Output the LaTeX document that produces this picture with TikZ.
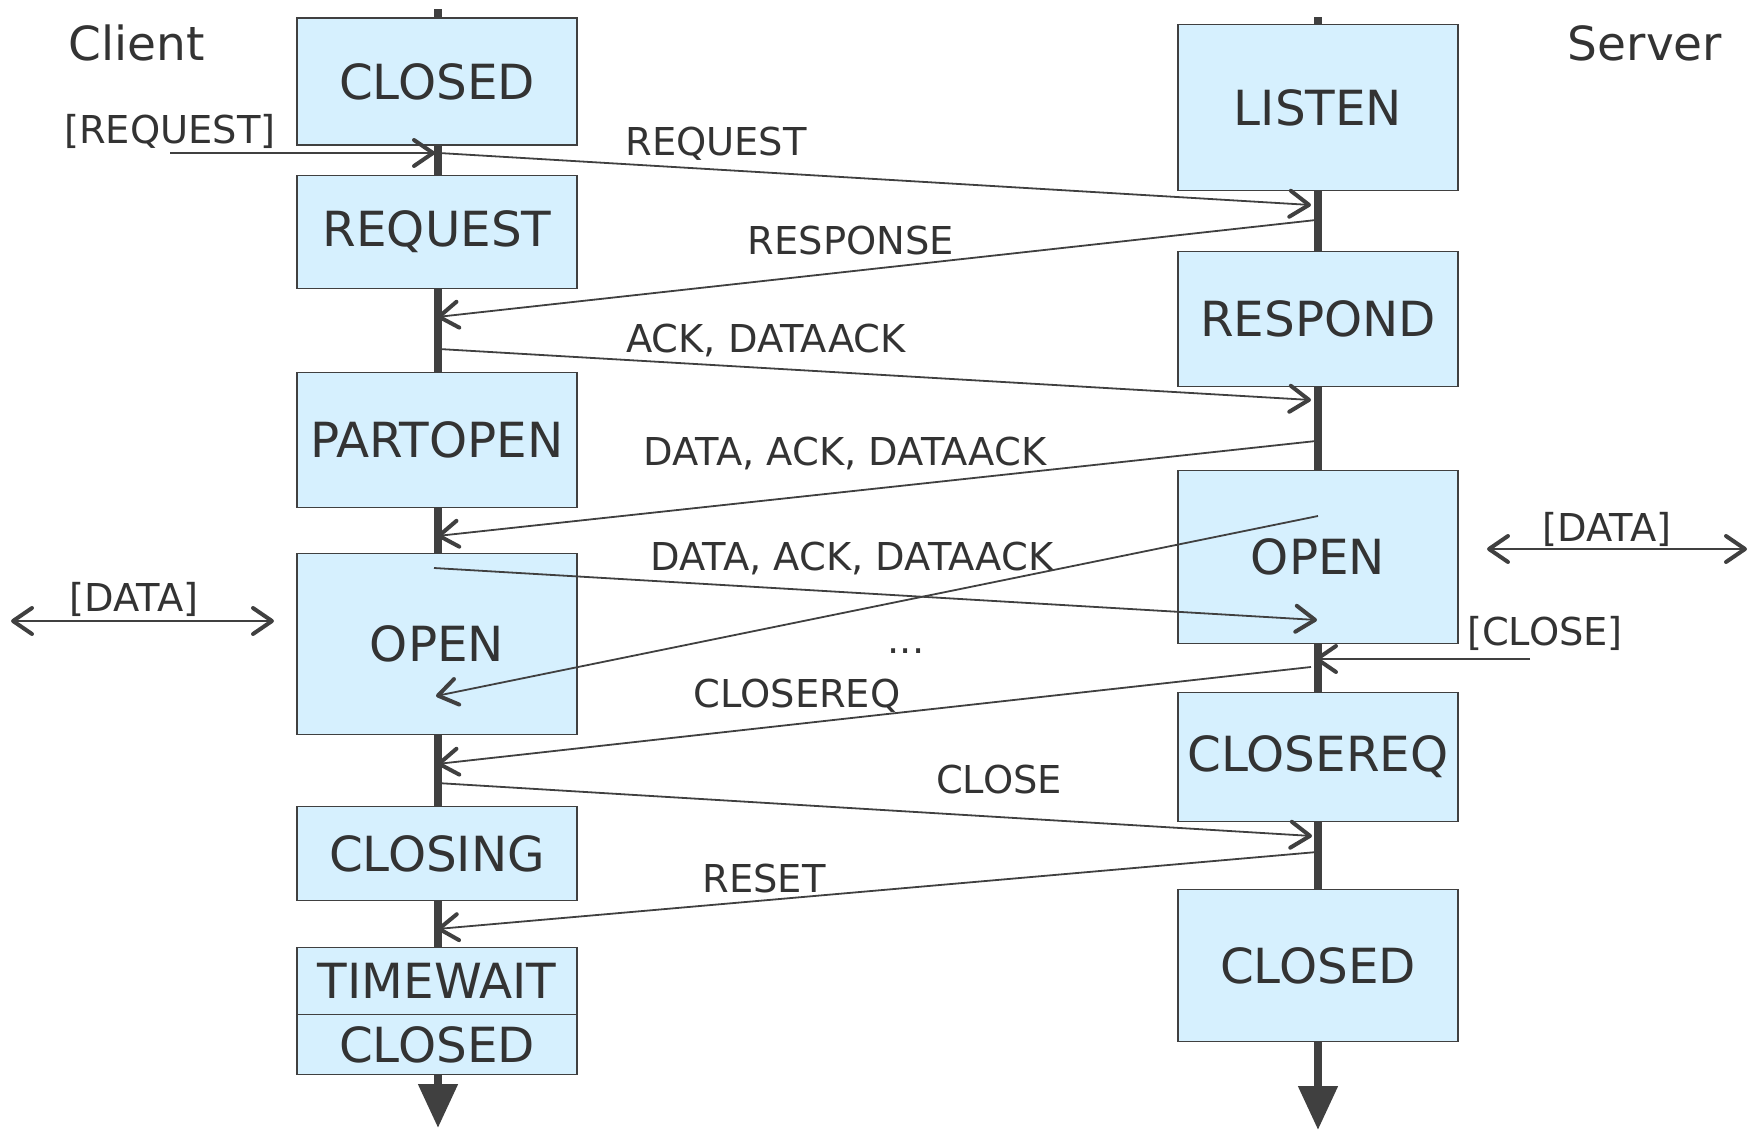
\documentclass[tikz,border=0pt]{standalone}
\usepackage{fontspec}
\setmainfont{DejaVu Sans}
\usetikzlibrary{arrows.meta}

\definecolor{ink}{HTML}{404040}
\definecolor{txt}{HTML}{333333}
\definecolor{statefill}{HTML}{D6F0FE}

\tikzset{
  barb/.tip={Straight Barb[length=9.5pt,width=13pt,line width=2pt,round]},
  state/.style={draw=ink, line width=0.9pt, fill=statefill, minimum width=140pt,
    inner sep=0pt, text=txt, font=\fontsize{24.2}{28}\selectfont},
  side/.style={text=txt, inner sep=0pt, anchor=base, font=\fontsize{23.5}{28}\selectfont},
  msglabel/.style={text=txt, inner sep=0pt, anchor=base, font=\fontsize{19.2}{22}\selectfont},
  msg/.style={draw=ink, line width=0.9pt, -barb},
  both/.style={draw=ink, line width=0.9pt, barb-barb},
  life/.style={draw=ink, line width=4pt, -{Triangle[length=22pt,width=19pt]}},
}

\begin{document}
\begin{tikzpicture}[x=0.5pt, y=-0.5pt]
  \useasboundingbox (0,0) rectangle (1758,1130);

  % time lines
  \coordinate (cTop) at (438,9);
  \coordinate (cEnd) at (438,1128);
  \coordinate (sTop) at (1318,17);
  \coordinate (sEnd) at (1318,1130);
  \draw[life] (cTop) -- (cEnd);
  \draw[life] (sTop) -- (sEnd);

  \node[side] (client) at (137,60) {Client};
  \node[side] (server) at (1645,60) {Server};

  % client states
  \node[state, minimum height=63.5pt] (cClosed) at (437,81.5) {CLOSED};
  \node[state, minimum height=56.5pt] (cRequest) at (437,232) {REQUEST};
  \node[state, minimum height=67.5pt] (cPartopen) at (437,440) {PARTOPEN};
  \node[state, minimum height=90.5pt] (cOpen) at (437,644) {OPEN};
  \node[state, minimum height=47pt] (cClosing) at (437,853.5) {CLOSING};
  \node[state, minimum height=33.5pt] (cTimewait) at (437,981) {TIMEWAIT};
  \node[state, minimum height=30pt] (cClosedEnd) at (437,1044.5) {CLOSED};

  % server states
  \node[state, minimum height=83pt] (sListen) at (1318,107.5) {LISTEN};
  \node[state, minimum height=67.5pt] (sRespond) at (1318,319) {RESPOND};
  \node[state, minimum height=86.5pt] (sOpen) at (1318,557) {OPEN};
  \node[state, minimum height=64.5pt] (sCloseReq) at (1318,757) {CLOSEREQ};
  \node[state, minimum height=76pt] (sClosed) at (1318,965.5) {CLOSED};

  % message ends on the time lines
  \coordinate (reqIn) at (170,153);   \coordinate (c0) at (435,153);
  \coordinate (c1) at (439,153);      \coordinate (s1) at (1311,205);
  \coordinate (s2) at (1316,220);     \coordinate (c2) at (437,317);
  \coordinate (c3) at (439,349);      \coordinate (s3) at (1311,400);
  \coordinate (s4) at (1316,441);     \coordinate (c4) at (437,536);
  \coordinate (c5) at (434,568);      \coordinate (s5) at (1317,620);
  \coordinate (s6) at (1318,516);     \coordinate (c6) at (436,696);
  \coordinate (closeIn) at (1530,659); \coordinate (s0) at (1315,659);
  \coordinate (s7) at (1311,667);     \coordinate (c7) at (437,764);
  \coordinate (c8) at (437,783);      \coordinate (s8) at (1312,836);
  \coordinate (s9) at (1317,852);     \coordinate (c9) at (437,929);
  \coordinate (dataL1) at (11,621);   \coordinate (dataL2) at (274,621);
  \coordinate (dataR1) at (1487,549); \coordinate (dataR2) at (1747,549);

  % application events
  \draw[msg] (reqIn) -- (c0);
  \node[msglabel] (lReqIn) at (170,143) {[REQUEST]};
  \draw[msg] (closeIn) -- (s0);
  \node[msglabel] (lCloseIn) at (1545,645) {[CLOSE]};
  \draw[both] (dataL1) -- (dataL2);
  \node[msglabel] (lDataL) at (134,611) {[DATA]};
  \draw[both] (dataR1) -- (dataR2);
  \node[msglabel] (lDataR) at (1607,541) {[DATA]};

  % packets
  \draw[msg] (c1) -- (s1);
  \node[msglabel] (l1) at (716,155) {REQUEST};
  \draw[msg] (s2) -- (c2);
  \node[msglabel] (l2) at (851,254) {RESPONSE};
  \draw[msg] (c3) -- (s3);
  \node[msglabel] (l3) at (766,352) {ACK, DATAACK};
  \draw[msg] (s4) -- (c4);
  \node[msglabel] (l4) at (845,465) {DATA, ACK, DATAACK};
  \draw[msg] (c5) -- (s5);
  \node[msglabel] (l5) at (852,570) {DATA, ACK, DATAACK};
  \draw[msg] (s6) -- (c6);
  \node[msglabel] (dots) at (906,653) {...};
  \draw[msg] (s7) -- (c7);
  \node[msglabel] (l7) at (797,707) {CLOSEREQ};
  \draw[msg] (c8) -- (s8);
  \node[msglabel] (l8) at (999,793) {CLOSE};
  \draw[msg] (s9) -- (c9);
  \node[msglabel] (l9) at (764,892) {RESET};
\end{tikzpicture}
\end{document}
